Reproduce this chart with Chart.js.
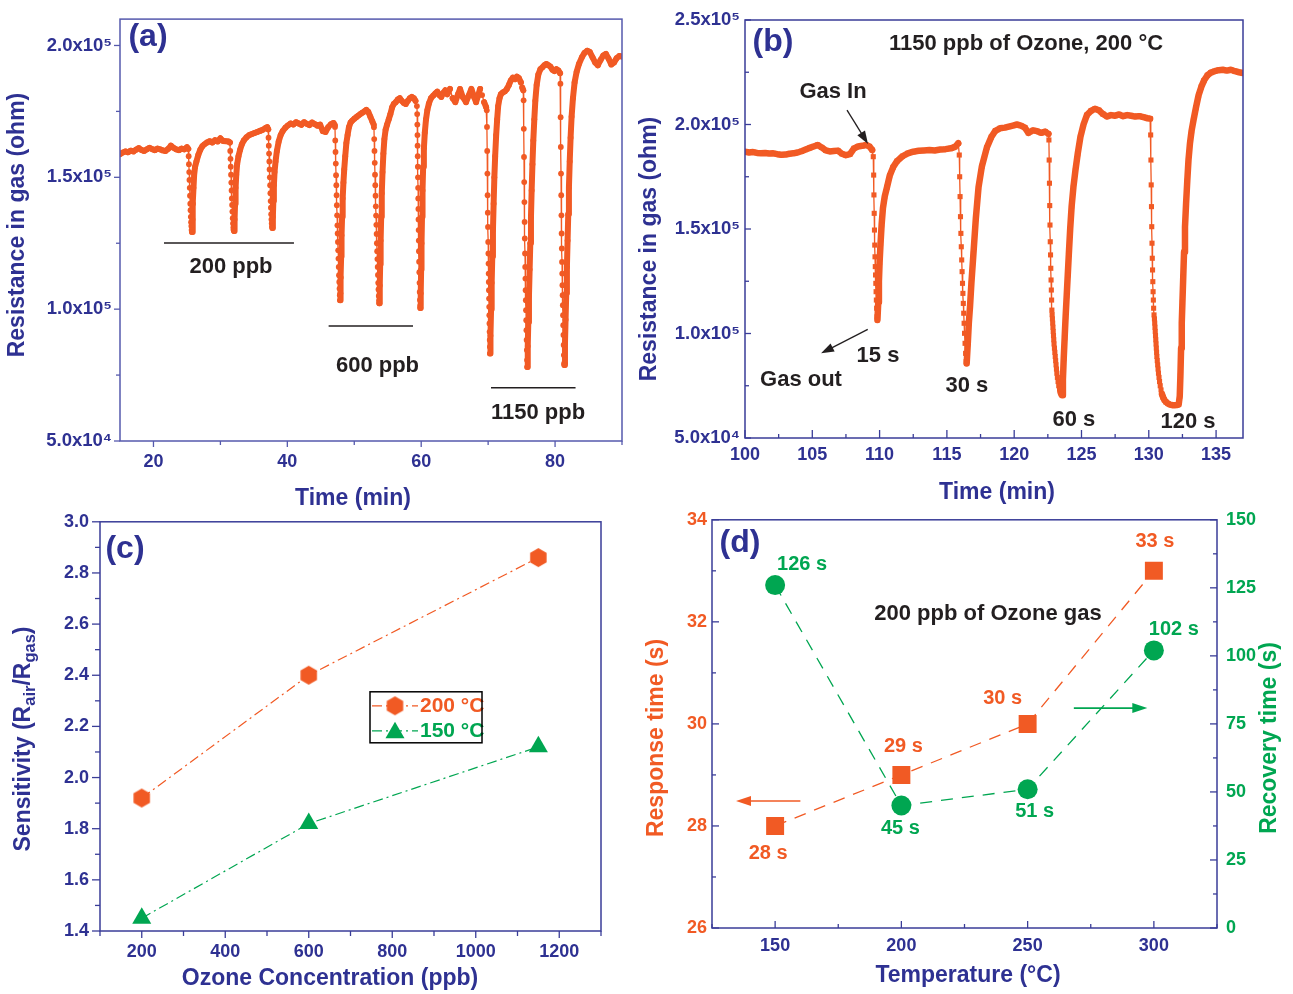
<!DOCTYPE html>
<html><head><meta charset="utf-8"><title>Ozone sensing</title>
<script src="https://cdn.jsdelivr.net/npm/chart.js@4.4.1/dist/chart.umd.min.js"></script>
<style>
html,body{margin:0;padding:0;background:#fff}
body{position:relative;width:1293px;height:994px;overflow:hidden}
canvas{position:absolute;display:block}
</style></head><body>
<canvas id="ca" width="640" height="512" style="left:0px;top:0px"></canvas>
<canvas id="cb" width="657" height="512" style="left:636px;top:0px"></canvas>
<canvas id="cc" width="640" height="494" style="left:0px;top:500px"></canvas>
<canvas id="cd" width="657" height="494" style="left:636px;top:500px"></canvas>
<script>
// ---------------- DATA ----------------
// (a) resistance (units of 1e5 ohm) vs time (min)
const curveA = [
[15.0,1.588],[15.4,1.594],[15.8,1.598],[16.2,1.595],[16.6,1.601],[17.0,1.598],[17.4,1.605],[17.8,1.611],[18.2,1.604],[18.6,1.600],[19.0,1.606],[19.4,1.612],[19.8,1.607],[20.2,1.603],[20.6,1.609],[21.0,1.606],[21.4,1.602],[21.8,1.600],[22.2,1.608],[22.6,1.620],[23.0,1.612],[23.4,1.606],[23.8,1.603],[24.2,1.609],[24.6,1.606],[25.0,1.614],[25.2,1.608],
[25.26,1.58],[25.30,1.55],[25.34,1.52],[25.38,1.49],[25.42,1.46],[25.46,1.43],[25.50,1.40],[25.54,1.375],[25.58,1.35],[25.62,1.33],[25.66,1.315],[25.70,1.30],[25.76,1.293],
[25.83,1.34],[25.90,1.40],[25.98,1.46],[26.08,1.51],[26.22,1.54],[26.42,1.56],[26.7,1.585],[27.0,1.605],[27.3,1.618],[27.6,1.625],[28.0,1.632],[28.4,1.637],[28.8,1.632],[29.2,1.641],[29.6,1.636],[30.0,1.648],[30.4,1.638],[30.8,1.637],[31.2,1.636],[31.42,1.632],
[31.47,1.60],[31.51,1.57],[31.55,1.54],[31.59,1.51],[31.63,1.48],[31.67,1.45],[31.71,1.42],[31.75,1.395],[31.79,1.37],[31.84,1.345],[31.89,1.325],[31.94,1.31],[31.99,1.30],[32.05,1.296],
[32.12,1.34],[32.19,1.40],[32.27,1.46],[32.37,1.51],[32.5,1.55],[32.7,1.58],[32.95,1.605],[33.2,1.625],[33.5,1.640],[33.9,1.652],[34.3,1.660],[34.7,1.664],[35.1,1.668],[35.5,1.672],[35.9,1.676],[36.3,1.680],[36.7,1.686],[37.0,1.690],[37.15,1.682],
[37.19,1.65],[37.23,1.62],[37.27,1.59],[37.31,1.56],[37.35,1.53],[37.39,1.50],[37.43,1.47],[37.47,1.44],[37.51,1.41],[37.55,1.385],[37.59,1.36],[37.63,1.34],[37.67,1.325],[37.71,1.313],[37.77,1.308],
[37.84,1.35],[37.91,1.41],[37.99,1.47],[38.09,1.52],[38.24,1.56],[38.44,1.60],[38.7,1.635],[39.0,1.66],[39.3,1.675],[39.7,1.688],[40.1,1.697],[40.5,1.704],[40.9,1.700],[41.3,1.709],[41.7,1.704],[42.1,1.699],[42.5,1.709],[42.9,1.703],[43.3,1.698],[43.7,1.708],[44.1,1.702],[44.5,1.696],[44.9,1.700],[45.3,1.675],[45.7,1.672],[46.1,1.690],[46.5,1.701],[46.9,1.706],[47.08,1.698],
[47.12,1.691],[47.16,1.640],[47.20,1.596],[47.24,1.552],[47.28,1.508],[47.32,1.470],[47.36,1.432],[47.40,1.394],[47.44,1.356],[47.48,1.318],[47.52,1.287],[47.56,1.255],[47.60,1.223],[47.64,1.192],[47.68,1.160],[47.72,1.129],[47.76,1.103],[47.80,1.078],[47.84,1.053],[47.88,1.034],
[47.93,1.06],[47.98,1.12],[48.04,1.20],[48.10,1.28],[48.18,1.35],[48.27,1.42],[48.38,1.48],[48.5,1.53],[48.65,1.58],[48.82,1.63],[49.0,1.66],[49.2,1.69],[49.45,1.708],[49.7,1.715],[50.0,1.722],[50.3,1.728],[50.6,1.734],[50.9,1.74],[51.2,1.745],[51.5,1.75],[51.8,1.756],[52.1,1.748],[52.4,1.73],[52.7,1.712],[52.9,1.70],
[52.94,1.69],[52.98,1.645],[53.02,1.60],[53.06,1.555],[53.10,1.51],[53.14,1.47],[53.18,1.43],[53.22,1.39],[53.26,1.355],[53.30,1.32],[53.34,1.285],[53.38,1.25],[53.42,1.22],[53.46,1.19],[53.50,1.16],[53.54,1.13],[53.58,1.10],[53.62,1.075],[53.66,1.05],[53.70,1.032],[53.74,1.022],
[53.81,1.09],[53.87,1.17],[53.94,1.26],[54.02,1.35],[54.11,1.44],[54.22,1.52],[54.35,1.59],[54.5,1.645],[54.68,1.68],[54.9,1.70],[55.15,1.72],[55.4,1.74],[55.65,1.765],[55.9,1.778],[56.2,1.785],[56.5,1.795],[56.8,1.80],[57.1,1.79],[57.4,1.782],[57.7,1.778],[58.0,1.79],[58.3,1.80],[58.6,1.805],[58.9,1.80],[59.15,1.79],[59.36,1.77],
[59.40,1.74],[59.42,1.70],[59.44,1.66],[59.46,1.62],[59.48,1.58],[59.50,1.54],[59.52,1.50],[59.54,1.46],[59.56,1.42],[59.58,1.38],[59.60,1.34],[59.62,1.30],[59.64,1.26],[59.66,1.22],[59.69,1.18],[59.72,1.14],[59.75,1.10],[59.78,1.065],[59.81,1.035],[59.84,1.012],[59.87,1.004],
[59.93,1.06],[59.99,1.15],[60.05,1.25],[60.12,1.35],[60.2,1.45],[60.29,1.54],[60.4,1.61],[60.54,1.67],[60.72,1.72],[60.92,1.755],[61.15,1.78],[61.45,1.80],[61.8,1.81],[62.1,1.818],[62.4,1.825],[62.7,1.812],[63.0,1.805],[63.3,1.82],[63.6,1.83],[63.9,1.815],[64.3,1.835],[64.7,1.80],[65.1,1.785],[65.5,1.815],[65.8,1.835],[66.2,1.805],[66.7,1.785],[67.1,1.81],[67.5,1.835],[67.9,1.805],[68.2,1.785],[68.5,1.81],[68.8,1.835],[69.1,1.812],[69.4,1.785],[69.7,1.766],
[69.80,1.754],[69.83,1.691],[69.86,1.60],[69.89,1.514],[69.92,1.432],[69.95,1.366],[69.98,1.312],[70.01,1.255],[70.04,1.211],[70.06,1.173],[70.08,1.135],[70.10,1.103],[70.12,1.072],[70.14,1.04],[70.16,1.009],[70.18,0.977],[70.20,0.946],[70.22,0.914],[70.24,0.883],[70.26,0.857],[70.28,0.832],
[70.35,0.90],[70.44,1.00],[70.53,1.10],[70.62,1.20],[70.72,1.30],[70.82,1.40],[70.93,1.50],[71.05,1.58],[71.2,1.66],[71.35,1.72],[71.5,1.77],[71.7,1.80],[71.9,1.815],[72.2,1.822],[72.5,1.826],[72.8,1.835],[73.1,1.85],[73.4,1.868],[73.7,1.878],[74.0,1.872],[74.3,1.882],[74.6,1.876],[74.9,1.86],[75.1,1.84],[75.25,1.83],
[75.30,1.792],[75.33,1.684],[75.36,1.577],[75.39,1.482],[75.42,1.406],[75.45,1.331],[75.48,1.268],[75.51,1.211],[75.54,1.160],[75.57,1.116],[75.60,1.072],[75.63,1.034],[75.66,0.996],[75.69,0.958],[75.72,0.920],[75.75,0.883],[75.78,0.845],[75.81,0.807],[75.85,0.781],
[75.92,0.86],[76.0,0.95],[76.1,1.05],[76.2,1.15],[76.3,1.25],[76.4,1.35],[76.5,1.45],[76.62,1.55],[76.75,1.64],[76.9,1.72],[77.05,1.79],[77.25,1.85],[77.5,1.89],[77.8,1.91],[78.1,1.917],[78.4,1.925],[78.7,1.93],[79.0,1.925],[79.3,1.92],[79.6,1.908],[79.9,1.903],[80.2,1.91],[80.5,1.905],[80.75,1.895],
[80.80,1.855],[80.83,1.728],[80.86,1.615],[80.89,1.514],[80.92,1.432],[80.95,1.356],[80.98,1.287],[81.01,1.230],[81.04,1.179],[81.07,1.135],[81.10,1.091],[81.13,1.053],[81.16,1.015],[81.19,0.977],[81.22,0.939],[81.25,0.902],[81.28,0.864],[81.31,0.826],[81.35,0.794],[81.40,0.788],
[81.48,0.87],[81.57,0.96],[81.67,1.06],[81.77,1.16],[81.87,1.26],[81.97,1.36],[82.07,1.46],[82.19,1.56],[82.32,1.65],[82.47,1.73],[82.67,1.80],[82.92,1.86],[83.22,1.90],[83.57,1.93],[84.0,1.955],[84.4,1.972],[84.8,1.98],[85.2,1.975],[85.6,1.955],[86.0,1.935],[86.4,1.925],[86.8,1.945],[87.2,1.962],[87.6,1.968],[88.0,1.95],[88.4,1.928],[88.8,1.935],[89.2,1.952],[89.6,1.96],[90.0,1.958]
];
// (b) resistance (units of 1e5 ohm) vs time (min)
const curveB = [
[100.0,1.870],[100.3,1.866],[100.6,1.868],[100.9,1.864],[101.2,1.862],[101.5,1.864],[101.8,1.861],[102.1,1.862],[102.4,1.858],[102.7,1.855],[103.0,1.856],[103.3,1.860],[103.6,1.862],[103.9,1.866],[104.2,1.872],[104.5,1.880],[104.8,1.888],[105.1,1.895],[105.4,1.902],[105.7,1.890],[106.0,1.876],[106.3,1.871],[106.6,1.873],[106.9,1.875],[107.2,1.860],[107.5,1.853],[107.8,1.858],[108.1,1.886],[108.4,1.895],[108.7,1.898],[109.0,1.902],[109.25,1.895],[109.45,1.878],[109.53,1.846],
[109.56,1.758],[109.58,1.663],[109.60,1.575],[109.62,1.495],[109.64,1.423],[109.66,1.367],[109.68,1.320],[109.70,1.280],[109.72,1.240],[109.74,1.200],[109.76,1.160],[109.78,1.121],[109.81,1.080],[109.84,1.065],
[109.9,1.15],[109.95,1.25],[110.0,1.34],[110.07,1.43],[110.15,1.52],[110.25,1.60],[110.38,1.655],[110.55,1.70],[110.75,1.755],[111.0,1.795],[111.3,1.825],[111.7,1.848],[112.1,1.862],[112.5,1.87],[112.9,1.874],[113.3,1.876],[113.7,1.878],[114.1,1.876],[114.5,1.88],[114.9,1.882],[115.3,1.886],[115.6,1.893],[115.85,1.91],
[115.92,1.854],[115.95,1.750],[115.98,1.655],[116.01,1.559],[116.04,1.479],[116.07,1.415],[116.10,1.352],[116.13,1.296],[116.16,1.240],[116.19,1.192],[116.22,1.144],[116.25,1.097],[116.28,1.049],[116.31,1.001],[116.35,0.953],[116.39,0.905],[116.43,0.865],[116.47,0.857],
[116.55,0.95],[116.63,1.05],[116.72,1.13],[116.82,1.24],[116.97,1.38],[117.15,1.55],[117.35,1.70],[117.6,1.80],[117.97,1.89],[118.3,1.94],[118.6,1.97],[118.95,1.982],[119.3,1.985],[119.6,1.99],[119.9,1.995],[120.2,2.0],[120.5,1.995],[120.8,1.985],[121.05,1.96],[121.4,1.972],[121.7,1.968],[122.0,1.96],[122.3,1.966],[122.55,1.955],
[122.58,1.926],[122.60,1.830],[122.62,1.719],[122.64,1.612],[122.66,1.519],[122.68,1.439],[122.70,1.376],[122.72,1.312],[122.74,1.256],[122.76,1.208],[122.78,1.160],[122.80,1.112],[122.82,1.09],[122.84,1.07],[122.86,1.05],[122.88,1.03],[122.90,1.01],[122.92,0.99],[122.94,0.97],[122.96,0.95],[122.99,0.93],[123.02,0.91],[123.05,0.89],[123.08,0.87],[123.11,0.85],[123.14,0.83],[123.17,0.81],[123.21,0.79],[123.26,0.77],[123.31,0.75],[123.37,0.735],[123.44,0.72],[123.50,0.71],[123.56,0.705],
[123.62,0.78],[123.68,0.88],[123.75,0.98],[123.82,1.08],[123.9,1.18],[123.98,1.28],[124.06,1.38],[124.16,1.50],[124.27,1.61],[124.4,1.70],[124.55,1.78],[124.72,1.86],[124.92,1.94],[125.15,2.00],[125.4,2.045],[125.7,2.065],[126.0,2.075],[126.3,2.068],[126.6,2.05],[126.9,2.038],[127.2,2.045],[127.5,2.042],[127.8,2.048],[128.1,2.04],[128.4,2.045],[128.7,2.042],[129.0,2.038],[129.3,2.04],[129.6,2.035],[129.9,2.03],[130.1,2.028],
[130.14,1.950],[130.16,1.830],[130.18,1.711],[130.20,1.607],[130.22,1.511],[130.24,1.432],[130.26,1.360],[130.28,1.304],[130.30,1.248],[130.32,1.200],[130.34,1.160],[130.36,1.121],[130.39,1.089],[130.42,1.07],[130.44,1.05],[130.46,1.03],[130.48,1.01],[130.50,0.99],[130.52,0.97],[130.54,0.95],[130.56,0.93],[130.58,0.91],[130.60,0.89],[130.63,0.87],[130.66,0.85],[130.69,0.83],[130.72,0.81],[130.76,0.79],[130.80,0.77],[130.85,0.75],[130.91,0.73],[130.98,0.71],[131.06,0.695],[131.16,0.682],[131.28,0.672],[131.42,0.665],[131.58,0.66],[131.75,0.657],[131.92,0.657],[132.08,0.658],[132.22,0.66],
[132.3,0.70],[132.35,0.80],[132.4,0.93],[132.45,1.05],[132.5,1.15],[132.56,1.27],[132.62,1.39],[132.69,1.51],[132.77,1.62],[132.86,1.73],[132.95,1.83],[133.06,1.91],[133.18,1.97],[133.32,2.02],[133.5,2.08],[133.7,2.14],[133.9,2.18],[134.1,2.21],[134.35,2.235],[134.6,2.248],[134.9,2.255],[135.2,2.26],[135.5,2.262],[135.8,2.258],[136.1,2.262],[136.4,2.255],[136.7,2.25],[137.0,2.246]
];
// (c) sensitivity vs ozone concentration
const concC = [200, 600, 1150];
const sens200C = [1.92, 2.40, 2.86];
const sens150C = [1.45, 1.82, 2.12];
const seriesC = ['200 \u00B0C', '150 \u00B0C'];
// (d) response / recovery time vs temperature
const tempD = [150, 200, 250, 300];
const responseD = [28, 29, 30, 33];
const recoveryD = [126, 45, 51, 102];

// tick values
const ticksAx = [20, 40, 60, 80], minorAx = [30, 50, 70, 90];
const ticksAy = [0.5, 1.0, 1.5, 2.0], minorAy = [0.75, 1.25, 1.75];
const ticksBx = [100, 105, 110, 115, 120, 125, 130, 135], minorBx = [102.5, 107.5, 112.5, 117.5, 122.5, 127.5, 132.5];
const ticksBy = [0.5, 1.0, 1.5, 2.0, 2.5], minorBy = [0.75, 1.25, 1.75, 2.25];
const ticksCx = [200, 400, 600, 800, 1000, 1200], minorCx = [100, 300, 500, 700, 900, 1100, 1300];
const ticksCy = [1.4, 1.6, 1.8, 2.0, 2.2, 2.4, 2.6, 2.8, 3.0], minorCy = [1.5, 1.7, 1.9, 2.1, 2.3, 2.5, 2.7, 2.9];
const ticksDx = [150, 200, 250, 300], minorDx = [125, 175, 225, 275, 325];
const ticksDy = [26, 28, 30, 32, 34], minorDy = [27, 29, 31, 33];
const ticksDy2 = [0, 25, 50, 75, 100, 125, 150], minorDy2 = [12.5, 37.5, 62.5, 87.5, 112.5, 137.5];

// ---------------- STYLE ----------------
const ORANGE = '#f15a24', GREEN = '#00a651', BLUE = '#2e3192', INK = '#231f20';
const FONT = "'Liberation Sans', Arial, Helvetica, sans-serif";
const TITLE_SIZE = 23;
Chart.defaults.font.family = FONT;
Chart.defaults.font.weight = 'bold';

function sciLabel(v) { return v < 1 ? (v * 10).toFixed(1) + 'x10\u2074' : v.toFixed(1) + 'x10\u2075'; }

function axis(o) {
  return {
    type: 'linear', position: o.pos, min: o.min, max: o.max,
    grid: { display: false, drawTicks: false }, border: { display: false },
    ticks: { color: o.color || BLUE, padding: o.pad, font: { family: FONT, size: o.size || 18, weight: 'bold' },
      maxRotation: 0, autoSkip: false, callback: o.fmt || (v => String(v)) },
    title: { display: false },
    afterBuildTicks: s => { s.ticks = o.major.map(v => ({ value: v })); },
    afterFit: s => { if (o.w != null) s.width = o.w; if (o.h != null) s.height = o.h; }
  };
}

function txt(ctx, s, x, y, size, color, align, base) {
  ctx.font = 'bold ' + size + 'px ' + FONT;
  ctx.fillStyle = color; ctx.textAlign = align || 'center'; ctx.textBaseline = base || 'middle';
  ctx.fillText(s, x, y);
}
function vtxt(ctx, s, x, y, size, color) {
  ctx.save(); ctx.translate(x, y); ctx.rotate(-Math.PI / 2); txt(ctx, s, 0, 0, size, color); ctx.restore();
}
function arrow(ctx, x1, y1, x2, y2, color, lw, hl, hw) {
  const an = Math.atan2(y2 - y1, x2 - x1), c = Math.cos(an), s = Math.sin(an);
  ctx.strokeStyle = color; ctx.fillStyle = color; ctx.lineWidth = lw; ctx.setLineDash([]);
  ctx.beginPath(); ctx.moveTo(x1, y1); ctx.lineTo(x2 - c * hl * 0.8, y2 - s * hl * 0.8); ctx.stroke();
  ctx.beginPath(); ctx.moveTo(x2, y2);
  ctx.lineTo(x2 - hl * c + hw * s, y2 - hl * s - hw * c);
  ctx.lineTo(x2 - hl * c - hw * s, y2 - hl * s + hw * c);
  ctx.closePath(); ctx.fill();
}
function hexImg(r, color) {
  const cv = document.createElement('canvas'); const n = Math.ceil(2 * r) + 2;
  cv.width = n; cv.height = n; const g = cv.getContext('2d'); g.fillStyle = color; g.beginPath();
  for (let k = 0; k < 6; k++) { const an = -Math.PI / 2 + k * Math.PI / 3; const px = n / 2 + r * Math.cos(an), py = n / 2 + r * Math.sin(an); if (k) g.lineTo(px, py); else g.moveTo(px, py); }
  g.closePath(); g.fill(); return cv;
}
const HEX = hexImg(9.5, ORANGE);

function makeDecor(cfg) {
  return {
    id: 'decor',
    afterDraw(chart) {
      const ctx = chart.ctx, a = chart.chartArea;
      ctx.save();
      ctx.setLineDash([]);
      cfg.axes.forEach(ax => {
        const s = chart.scales[ax.id];
        ctx.strokeStyle = cfg.frame; ctx.lineWidth = 1.3;
        const draw = (v, len) => {
          const p = s.getPixelForValue(v);
          ctx.beginPath();
          if (ax.side === 'bottom') { const d = ax.dir === 'in' ? -len : len; ctx.moveTo(p, a.bottom); ctx.lineTo(p, a.bottom + d); }
          else if (ax.side === 'left') { const d = ax.dir === 'in' ? len : -len; ctx.moveTo(a.left, p); ctx.lineTo(a.left + d, p); }
          else { const d = ax.dir === 'in' ? -len : len; ctx.moveTo(a.right, p); ctx.lineTo(a.right + d, p); }
          ctx.stroke();
        };
        s.ticks.forEach(t => draw(t.value, ax.major));
        ax.minorVals.forEach(v => draw(v, ax.minor));
      });
      ctx.strokeStyle = cfg.frame; ctx.lineWidth = 1.5;
      ctx.strokeRect(a.left, a.top, a.right - a.left, a.bottom - a.top);
      txt(ctx, cfg.label, a.left + cfg.ldx, a.top + cfg.ldy, 32, BLUE);
      (cfg.titles || []).forEach(t => {
        if (t.v) vtxt(ctx, t.text, t.x, t.y, TITLE_SIZE, t.color || BLUE);
        else txt(ctx, t.text, t.x, t.y, TITLE_SIZE, t.color || BLUE);
      });
      if (cfg.extra) cfg.extra(chart, ctx, a);
      ctx.restore();
    }
  };
}

const thinIfFalling = (thick) => (c => ((c.p1.y - c.p0.y) / Math.max(c.p1.x - c.p0.x, 0.1) > 3 ? 1.3 : thick));
const baseOpts = { responsive: false, animation: false, devicePixelRatio: 1,
  plugins: { legend: { display: false }, tooltip: { enabled: false } } };

// ---------------- (a) ----------------
const barsA = [{ t0: 21.57, t1: 40.99, r: 1.251 }, { t0: 46.17, t1: 58.78, r: 0.936 }, { t0: 70.43, t1: 83.06, r: 0.702 }];
const notesA = [{ text: '200 ppb', t: 31.58, r: 1.159 }, { text: '600 ppb', t: 53.47, r: 0.784 }, { text: '1150 ppb', t: 77.45, r: 0.606 }];
new Chart(document.getElementById('ca'), {
  type: 'scatter',
  data: { datasets: [{ data: curveA.map(p => ({ x: p[0], y: p[1] })), showLine: true, borderColor: ORANGE,
    backgroundColor: ORANGE, pointBackgroundColor: ORANGE, pointBorderWidth: 0, pointRadius: 2.9,
    borderWidth: 6, borderJoinStyle: 'round', borderCapStyle: 'round', tension: 0,
    segment: { borderWidth: thinIfFalling(6) } }] },
  options: Object.assign({}, baseOpts, {
    layout: { autoPadding: false, padding: { left: 0, top: 18, right: 18, bottom: 0 } },
    scales: {
      x: axis({ pos: 'bottom', min: 15, max: 90, major: ticksAx, pad: 10, h: 71 }),
      y: axis({ pos: 'left', min: 0.5, max: 2.1, major: ticksAy, pad: 8, w: 120, size: 18.5, fmt: sciLabel })
    }
  }),
  plugins: [makeDecor({ frame: '#5559ad', label: '(a)', ldx: 28, ldy: 18,
    titles: [{ text: 'Resistance in gas (ohm)', x: 18, y: 225, v: true }, { text: 'Time (min)', x: 353, y: 499 }],
    axes: [{ id: 'x', side: 'bottom', dir: 'out', major: 6, minor: 4, minorVals: minorAx },
           { id: 'y', side: 'left', dir: 'out', major: 6, minor: 4, minorVals: minorAy }],
    extra: (chart, ctx) => {
      const X = v => chart.scales.x.getPixelForValue(v), Y = v => chart.scales.y.getPixelForValue(v);
      ctx.strokeStyle = INK; ctx.lineWidth = 1.5;
      barsA.forEach(b => { ctx.beginPath(); ctx.moveTo(X(b.t0), Y(b.r)); ctx.lineTo(X(b.t1), Y(b.r)); ctx.stroke(); });
      notesA.forEach(n => txt(ctx, n.text, X(n.t), Y(n.r), 22, INK));
    } })]
});

// ---------------- (b) ----------------
const notesB = [
  { text: '1150 ppb of Ozone, 200 \u00B0C', t: 120.88, r: 2.385 }, { text: 'Gas In', t: 106.54, r: 2.156 },
  { text: 'Gas out', t: 104.16, r: 0.778 }, { text: '15 s', t: 109.88, r: 0.892 }, { text: '30 s', t: 116.49, r: 0.749 },
  { text: '60 s', t: 124.44, r: 0.586 }, { text: '120 s', t: 132.91, r: 0.577 }];
const arrowsB = [{ t0: 107.58, r0: 2.069, t1: 109.14, r1: 1.907 }, { t0: 109.12, r0: 1.02, t1: 105.65, r1: 0.905 }];
new Chart(document.getElementById('cb'), {
  type: 'scatter',
  data: { datasets: [{ data: curveB.map(p => ({ x: p[0], y: p[1] })), showLine: true, borderColor: ORANGE,
    backgroundColor: ORANGE, pointBackgroundColor: ORANGE, pointBorderWidth: 0, pointStyle: 'rect', pointRadius: 3.6,
    borderWidth: 6.5, borderJoinStyle: 'round', borderCapStyle: 'round', tension: 0,
    segment: { borderWidth: thinIfFalling(6.5) } }] },
  options: Object.assign({}, baseOpts, {
    layout: { autoPadding: false, padding: { left: 0, top: 20, right: 50, bottom: 0 } },
    scales: {
      x: axis({ pos: 'bottom', min: 100, max: 137, major: ticksBx, pad: 6.5, h: 74 }),
      y: axis({ pos: 'left', min: 0.5, max: 2.5, major: ticksBy, pad: 5, w: 109, size: 18.5, fmt: sciLabel })
    }
  }),
  plugins: [makeDecor({ frame: '#3a3d98', label: '(b)', ldx: 28, ldy: 22,
    titles: [{ text: 'Resistance in gas (ohm)', x: 14, y: 249, v: true }, { text: 'Time (min)', x: 361, y: 493 }],
    axes: [{ id: 'x', side: 'bottom', dir: 'in', major: 8, minor: 4, minorVals: minorBx },
           { id: 'y', side: 'left', dir: 'in', major: 6, minor: 4, minorVals: minorBy }],
    extra: (chart, ctx) => {
      const X = v => chart.scales.x.getPixelForValue(v), Y = v => chart.scales.y.getPixelForValue(v);
      arrowsB.forEach(w => arrow(ctx, X(w.t0), Y(w.r0), X(w.t1), Y(w.r1), INK, 1.3, 13, 4.5));
      notesB.forEach(n => txt(ctx, n.text, X(n.t), Y(n.r), 22, INK));
    } })]
});

// ---------------- (c) ----------------
new Chart(document.getElementById('cc'), {
  type: 'scatter',
  data: { datasets: [
    { label: seriesC[0], data: concC.map((x, i) => ({ x: x, y: sens200C[i] })), showLine: true, borderColor: ORANGE,
      borderWidth: 1.2, borderDash: [10, 4, 2, 4], pointStyle: HEX, pointRadius: 9.5, tension: 0 },
    { label: seriesC[1], data: concC.map((x, i) => ({ x: x, y: sens150C[i] })), showLine: true, borderColor: GREEN,
      borderWidth: 1.2, borderDash: [10, 4, 2, 4], pointStyle: 'triangle', pointRadius: 11, pointBackgroundColor: GREEN,
      pointBorderWidth: 0, tension: 0 }] },
  options: Object.assign({}, baseOpts, {
    layout: { autoPadding: false, padding: { left: 0, top: 16, right: 39, bottom: 0 } },
    scales: {
      x: axis({ pos: 'bottom', min: 100, max: 1300, major: ticksCx, pad: 10.5, h: 63 }),
      y: axis({ pos: 'left', min: 1.4, max: 3.0, major: ticksCy, pad: 11, w: 100, fmt: v => v.toFixed(1) })
    }
  }),
  plugins: [makeDecor({ frame: '#3a3d98', label: '(c)', ldx: 25, ldy: 27,
    titles: [{ text: 'Ozone Concentration (ppb)', x: 330, y: 479 }],
    axes: [{ id: 'x', side: 'bottom', dir: 'out', major: 7, minor: 5, minorVals: minorCx },
           { id: 'y', side: 'left', dir: 'out', major: 8, minor: 5, minorVals: minorCy }],
    extra: (chart, ctx, a) => {
      // legend
      const bx = a.left + 270, by = a.top + 170, bw = 112, bh = 51;
      const rows = [[ORANGE, by + 14, 'hex'], [GREEN, by + 39, 'tri']];
      rows.forEach((r, i) => {
        ctx.strokeStyle = r[0]; ctx.lineWidth = 1.2; ctx.setLineDash([10, 4, 2, 4]);
        ctx.beginPath(); ctx.moveTo(bx + 2, r[1]); ctx.lineTo(bx + 48, r[1]); ctx.stroke(); ctx.setLineDash([]);
        const cx = bx + 25;
        if (r[2] === 'hex') ctx.drawImage(HEX, cx - HEX.width / 2, r[1] - HEX.height / 2);
        else { const rr = 11; ctx.fillStyle = GREEN; ctx.beginPath();
          for (let k = 0; k < 3; k++) { const an = -Math.PI / 2 + k * 2 * Math.PI / 3; const px = cx + rr * Math.cos(an), py = r[1] + 2 + rr * Math.sin(an); if (k) ctx.lineTo(px, py); else ctx.moveTo(px, py); }
          ctx.closePath(); ctx.fill(); }
        txt(ctx, chart.data.datasets[i].label, bx + 50, r[1], 21, r[0], 'left');
      });
      ctx.strokeStyle = '#000'; ctx.lineWidth = 1.5; ctx.strokeRect(bx, by, bw, bh);
      // y title with subscripts
      ctx.save(); ctx.translate(24, 239); ctx.rotate(-Math.PI / 2);
      const parts = [['Sensitivity (R', TITLE_SIZE, 0], ['air', 16.5, 6], ['/R', TITLE_SIZE, 0], ['gas', 16.5, 6], [')', TITLE_SIZE, 0]];
      let tot = 0; parts.forEach(p => { ctx.font = 'bold ' + p[1] + 'px ' + FONT; p.push(ctx.measureText(p[0]).width); tot += p[3]; });
      let x0 = -tot / 2;
      parts.forEach(p => { txt(ctx, p[0], x0, p[2], p[1], BLUE, 'left'); x0 += p[3]; });
      ctx.restore();
    } })]
});

// ---------------- (d) ----------------
const offResp = [[-7, 28], [2, -28], [-25, -25], [1, -29]];
const offRec = [[27, -21], [-1, 23], [7, 22], [20, -21]];
new Chart(document.getElementById('cd'), {
  type: 'scatter',
  data: { datasets: [
    { label: 'Response time', data: tempD.map((x, i) => ({ x: x, y: responseD[i] })), yAxisID: 'y', showLine: true,
      borderColor: ORANGE, borderWidth: 1.3, borderDash: [12, 9], pointStyle: 'rect', pointRadius: 12.7,
      pointBackgroundColor: ORANGE, pointBorderWidth: 0, tension: 0 },
    { label: 'Recovery time', data: tempD.map((x, i) => ({ x: x, y: recoveryD[i] })), yAxisID: 'y2', showLine: true,
      borderColor: GREEN, borderWidth: 1.3, borderDash: [12, 9], pointStyle: 'circle', pointRadius: 10,
      pointBackgroundColor: GREEN, pointBorderWidth: 0, tension: 0 }] },
  options: Object.assign({}, baseOpts, {
    layout: { autoPadding: false, padding: { left: 0, top: 17, right: 0, bottom: 0 } },
    scales: {
      x: axis({ pos: 'bottom', min: 125, max: 325, major: ticksDx, pad: 7, h: 66 }),
      y: axis({ pos: 'left', min: 26, max: 34, major: ticksDy, pad: 5, w: 76, color: ORANGE }),
      y2: axis({ pos: 'right', min: 0, max: 150, major: ticksDy2, pad: 9, w: 76, color: GREEN })
    }
  }),
  plugins: [makeDecor({ frame: '#3a3d98', label: '(d)', ldx: 28, ldy: 23,
    titles: [{ text: 'Response time (s)', x: 21, y: 238, v: true, color: ORANGE },
             { text: 'Recovery time (s)', x: 634, y: 238, v: true, color: GREEN },
             { text: 'Temperature (\u00B0C)', x: 332, y: 476 }],
    axes: [{ id: 'x', side: 'bottom', dir: 'in', major: 7, minor: 4, minorVals: minorDx },
           { id: 'y', side: 'left', dir: 'in', major: 7, minor: 4, minorVals: minorDy },
           { id: 'y2', side: 'right', dir: 'in', major: 7, minor: 4, minorVals: minorDy2 }],
    extra: (chart, ctx) => {
      const X = v => chart.scales.x.getPixelForValue(v), Y = v => chart.scales.y.getPixelForValue(v), Y2 = v => chart.scales.y2.getPixelForValue(v);
      const m0 = chart.getDatasetMeta(0).data, m1 = chart.getDatasetMeta(1).data;
      responseD.forEach((v, i) => txt(ctx, v + ' s', m0[i].x + offResp[i][0], m0[i].y + offResp[i][1], 20, ORANGE));
      recoveryD.forEach((v, i) => txt(ctx, v + ' s', m1[i].x + offRec[i][0], m1[i].y + offRec[i][1], 20, GREEN));
      txt(ctx, '200 ppb of Ozone gas', X(234.3), Y(32.15), 22, INK);
      arrow(ctx, X(160), Y(28.49), X(134.5), Y(28.49), ORANGE, 1.6, 15, 5);
      arrow(ctx, X(268.3), Y2(80.8), X(297.4), Y2(80.8), GREEN, 1.6, 15, 5);
    } })]
});
</script></body></html>
